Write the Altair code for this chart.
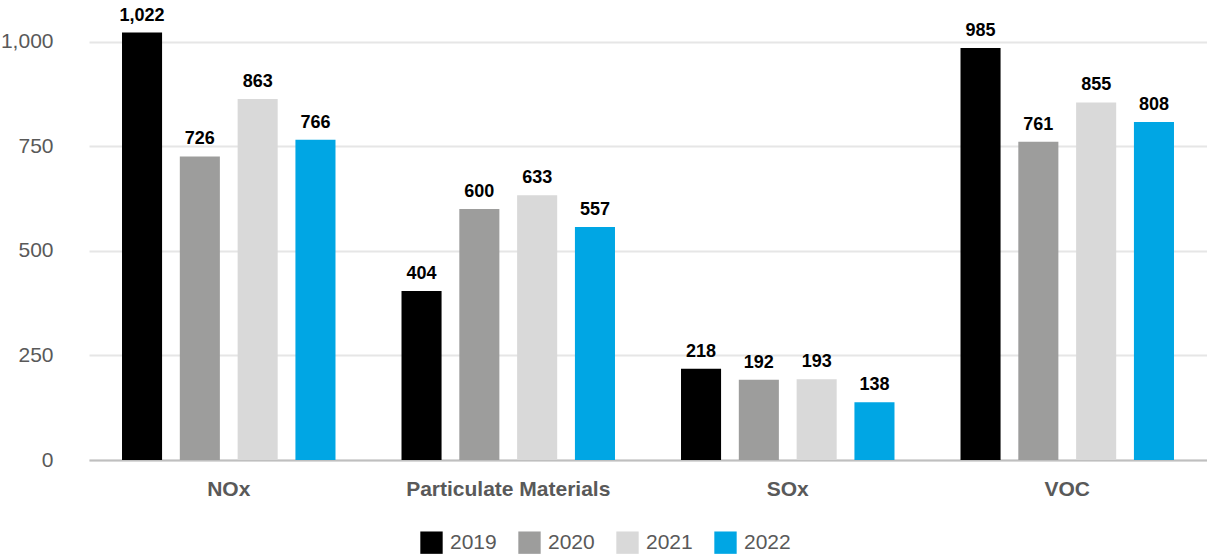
import altair as alt
import pandas as pd

# Emissions by pollutant and year
pollutants = ["NOx", "Particulate Materials", "SOx", "VOC"]
years = ["2019", "2020", "2021", "2022"]
values_2019 = [1022, 404, 218, 985]
values_2020 = [726, 600, 192, 761]
values_2021 = [863, 633, 193, 855]
values_2022 = [766, 557, 138, 808]
year_colors = ["#000000", "#9D9D9C", "#D9D9D9", "#00A6E4"]

rows = []
for year, vals in zip(years, [values_2019, values_2020, values_2021, values_2022]):
    for p, v in zip(pollutants, vals):
        rows.append({"pollutant": p, "year": year, "value": v})
df = pd.DataFrame(rows)

FONT = "Liberation Sans"

x_enc = alt.X(
    "pollutant:N",
    sort=pollutants,
    scale=alt.Scale(paddingInner=0, paddingOuter=0),
    axis=alt.Axis(
        title=None,
        labelAngle=0,
        labelFontWeight="bold",
        labelFontSize=21,
        labelColor="#595959",
        labelFont=FONT,
        labelPadding=18,
        labelLimit=1000,
        ticks=False,
        domainColor="#BFBFBF",
        domainWidth=2,
    ),
)
xoff_enc = alt.XOffset(
    "year:N", sort=years, scale=alt.Scale(paddingInner=0.307, paddingOuter=0.571)
)
y_enc = alt.Y(
    "value:Q",
    scale=alt.Scale(domain=[0, 1100], nice=False),
    axis=alt.Axis(
        title=None,
        values=[0, 250, 500, 750, 1000],
        format=",d",
        labelFontSize=21,
        labelColor="#595959",
        labelFont=FONT,
        labelPadding=36,
        ticks=False,
        domain=False,
        gridColor="#E6E6E6",
        gridWidth=2,
    ),
)

bars = alt.Chart(df).mark_bar().encode(
    x=x_enc,
    xOffset=xoff_enc,
    y=y_enc,
    color=alt.Color(
        "year:N",
        sort=years,
        scale=alt.Scale(domain=years, range=year_colors),
        legend=alt.Legend(
            title=None,
            orient="none",
            direction="horizontal",
            legendX=331,
            legendY=531,
            symbolType="square",
            symbolSize=500,
            symbolStrokeWidth=0,
            symbolOpacity=1,
            labelFontSize=21,
            labelColor="#595959",
            labelFont=FONT,
            columnPadding=21,
            labelOffset=7,
        ),
    ),
)

labels = alt.Chart(df).mark_text(
    baseline="bottom", dy=-8, fontSize=18, fontWeight="bold", font=FONT, color="#000000"
).encode(
    x=x_enc,
    xOffset=xoff_enc,
    y=y_enc,
    text=alt.Text("value:Q", format=",d"),
)

chart = (
    alt.layer(bars, labels)
    .properties(
        width=1118,
        height=460,
        autosize=alt.AutoSizeParams(type="none"),
        padding={"left": 89, "top": 0, "right": 0, "bottom": 96},
    )
    .configure_view(stroke=None)
)

chart.save("out.html", embed_options={"renderer": "svg", "actions": False})
